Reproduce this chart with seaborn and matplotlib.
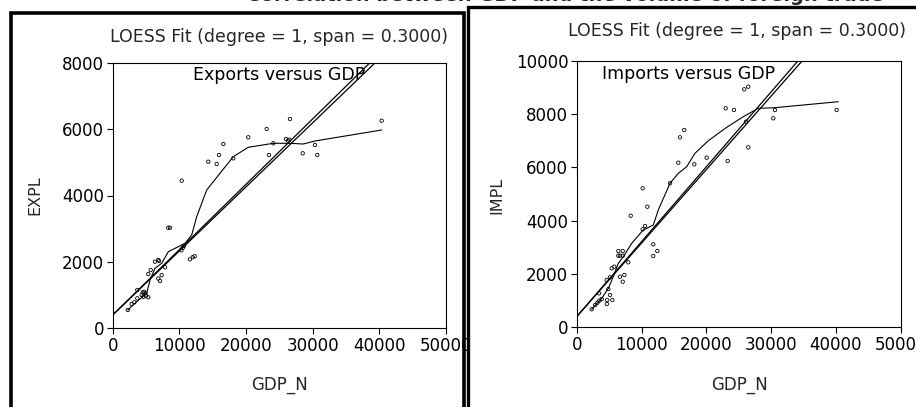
import numpy as np
import pandas as pd
import matplotlib
matplotlib.use("Agg")
import matplotlib.pyplot as plt
from matplotlib.lines import Line2D
from matplotlib.patches import Rectangle
import seaborn as sns

# ---------------- data ----------------
main_title = "Correlation between GDP and the volume of foreign trade"
fit_title = "LOESS Fit (degree = 1, span = 0.3000)"

exp_gdp = [2250, 2850, 3240, 3690, 3690, 4350, 4500, 4700, 4900, 5000, 4600, 5340,
           5340, 5700, 6345, 6840, 6950, 6840, 7100, 7350, 7845, 8340, 8600,
           10350, 10300, 10500, 10700, 11595, 12000, 12300, 14340, 15600, 15945,
           16590, 18090, 20340, 23100, 23445, 24090, 26000, 26300, 26500, 26595,
           28500, 30345, 30690, 40350]
exp_val = [551, 732, 783, 903, 1154, 1003, 1080, 1100, 1050, 980, 950, 934,
           1635, 1756, 2006, 2057, 2030, 1500, 1425, 1600, 1837, 3030, 3030,
           4446, 2350, 2420, 2480, 2078, 2140, 2170, 5018, 4949, 5220,
           5551, 5120, 5753, 6003, 5220, 5572, 5700, 5650, 5680, 6304,
           5271, 5521, 5220, 6253]
exp_loess_x = [2250, 3600, 5100, 5595, 6345, 7350, 8340, 10845, 11850, 12600, 14100,
               16095, 18090, 20340, 24090, 26595, 28590, 30345, 40350]
exp_loess_y = [551, 801, 1054, 1455, 1807, 1958, 2307, 2560, 2810, 3361, 4166,
               4669, 5169, 5452, 5572, 5572, 5551, 5642, 5973]
exp_lin_a_x = [0, 45000]
exp_lin_a_y = [400, 9260]
exp_lin_b_x = [0, 45000]
exp_lin_b_y = [400, 9085]

imp_gdp = [2315, 2830, 3200, 3500, 3860, 3450, 4630, 4880, 4700, 4650, 5140, 5500,
           5140, 5400, 5800, 6420, 7100, 6420, 6680, 7100, 6680, 7100, 7350, 7960,
           8330, 10180, 10540, 10180, 10900, 11820, 11820, 12440, 14400, 15680,
           15940, 16600, 18150, 20060, 22990, 23300, 24270, 25860, 26480, 26120,
           26480, 30340, 30600, 40120]
imp_val = [675, 830, 920, 1000, 1060, 1274, 1773, 1435, 1023, 873, 1210, 1023,
           1874, 2211, 2271, 2860, 2860, 2684, 2684, 2684, 1897, 1709, 1960, 2436,
           4183, 3673, 3797, 5210, 4520, 3110, 2672, 2860, 5397, 6170,
           7121, 7395, 6109, 6357, 8208, 6233, 8144, 8920, 9018, 7706,
           6746, 7833, 8144, 8144]
imp_loess_x = [2315, 3860, 4880, 5650, 6420, 7190, 8490, 10280, 11820, 12590, 14400,
               15680, 16970, 18250, 20310, 23150, 25710, 28020, 30600, 40370]
imp_loess_y = [675, 1087, 1462, 1897, 2399, 2646, 3148, 3647, 3834, 4396, 5397,
               5772, 6019, 6522, 6994, 7496, 7893, 8208, 8231, 8456]
imp_lin_a_x = [0, 40000]
imp_lin_a_y = [400, 11630]
imp_lin_b_x = [0, 40000]
imp_lin_b_y = [400, 11420]

x_ticks = [0, 10000, 20000, 30000, 40000, 50000]
exp_y_ticks = [0, 2000, 4000, 6000, 8000]
imp_y_ticks = [0, 2000, 4000, 6000, 8000, 10000]

# ---------------- style ----------------
sns.set_theme(style="white")
plt.rcParams["font.family"] = ["DejaVu Sans"]

W, H = 916, 407
fig = plt.figure(figsize=(W / 100, H / 100), dpi=100)


def fx(px):
    return px / W


def fy(py):
    return 1 - py / H


def panel(ax, gx, gy, lx, ly, la_x, la_y, lb_x, lb_y, yticks, ylim, ylabel,
          label, label_pos, ha):
    pts = pd.DataFrame({"GDP_N": gx, ylabel: gy})
    sns.scatterplot(data=pts, x="GDP_N", y=ylabel, ax=ax, marker="o", s=6,
                    facecolor="none", edgecolor="black", linewidth=0.6,
                    legend=False, zorder=3)
    lo = pd.DataFrame({"x": lx, "y": ly})
    sns.lineplot(data=lo, x="x", y="y", ax=ax, sort=False, estimator=None,
                 color="black", linewidth=0.8)
    for xx, yy in ((la_x, la_y), (lb_x, lb_y)):
        d = pd.DataFrame({"x": xx, "y": yy})
        sns.lineplot(data=d, x="x", y="y", ax=ax, sort=False, estimator=None,
                     color="black", linewidth=0.9)
    ax.set_xlim(0, 50000)
    ax.set_ylim(*ylim)
    ax.set_xticks(x_ticks)
    ax.set_yticks(yticks)
    ax.set_xlabel("")
    ax.set_ylabel("")
    ax.tick_params(direction="out", length=4, width=0.8, colors="black",
                   labelsize=12, pad=2, bottom=True, left=True)
    for s in ax.spines.values():
        s.set_color("black")
        s.set_linewidth(0.8)
    ax.text(label_pos[0], label_pos[1], label, ha=ha, va="center",
            fontsize=12.5, color="black")


# left panel
axL = fig.add_axes([fx(112.7), fy(328.3), fx(446) - fx(112.7), fy(62.7) - fy(328.3)])
axL.set_zorder(1)
panel(axL, exp_gdp, exp_val, exp_loess_x, exp_loess_y, exp_lin_a_x, exp_lin_a_y,
      exp_lin_b_x, exp_lin_b_y, exp_y_ticks, (0, 8000), "EXPL",
      "Exports versus GDP", (24900, 7630), "center")

# white sheet of the right panel, covering anything of the left panel beneath it
fig.add_artist(Rectangle((fx(467), 0), 1, fy(7), transform=fig.transFigure,
                         facecolor="white", edgecolor="none", zorder=5))

axR = fig.add_axes([fx(576.7), fy(327.3), fx(900.7) - fx(576.7), fy(60.5) - fy(327.3)])
axR.set_zorder(6)
panel(axR, imp_gdp, imp_val, imp_loess_x, imp_loess_y, imp_lin_a_x, imp_lin_a_y,
      imp_lin_b_x, imp_lin_b_y, imp_y_ticks, (0, 10000), "IMPL",
      "Imports versus GDP", (3860, 9494), "left")

# texts
fig.text(fx(279.5), fy(37), fit_title, ha="center", va="center", fontsize=12.5, zorder=2)
fig.text(fx(737), fy(31), fit_title, ha="center", va="center", fontsize=12.5, zorder=7)
fig.text(fx(35), fy(195), "EXPL", rotation=90, ha="center", va="center", fontsize=11.5, zorder=2)
fig.text(fx(497), fy(195), "IMPL", rotation=90, ha="center", va="center", fontsize=11.5, zorder=7)
fig.text(fx(279.5), fy(385), "GDP_N", ha="center", va="center", fontsize=12, zorder=2)
fig.text(fx(739), fy(385), "GDP_N", ha="center", va="center", fontsize=12, zorder=7)
fig.text(fx(565), fy(0.8), main_title, ha="center", va="baseline", fontsize=14,
         fontweight="bold", zorder=11)

# thick black frames
fig.add_artist(Line2D([fx(10.5), fx(10.5), fx(464.5), fx(464.5)],
                      [0, fy(12.5), fy(12.5), 0], transform=fig.transFigure,
                      color="black", linewidth=2.6, solid_joinstyle="miter", zorder=10))
fig.add_artist(Line2D([fx(467.5), fx(467.5), 1.05],
                      [0, fy(7), fy(7)], transform=fig.transFigure,
                      color="black", linewidth=2.4, solid_joinstyle="miter", zorder=10))

fig.savefig("out.png", dpi=100)
